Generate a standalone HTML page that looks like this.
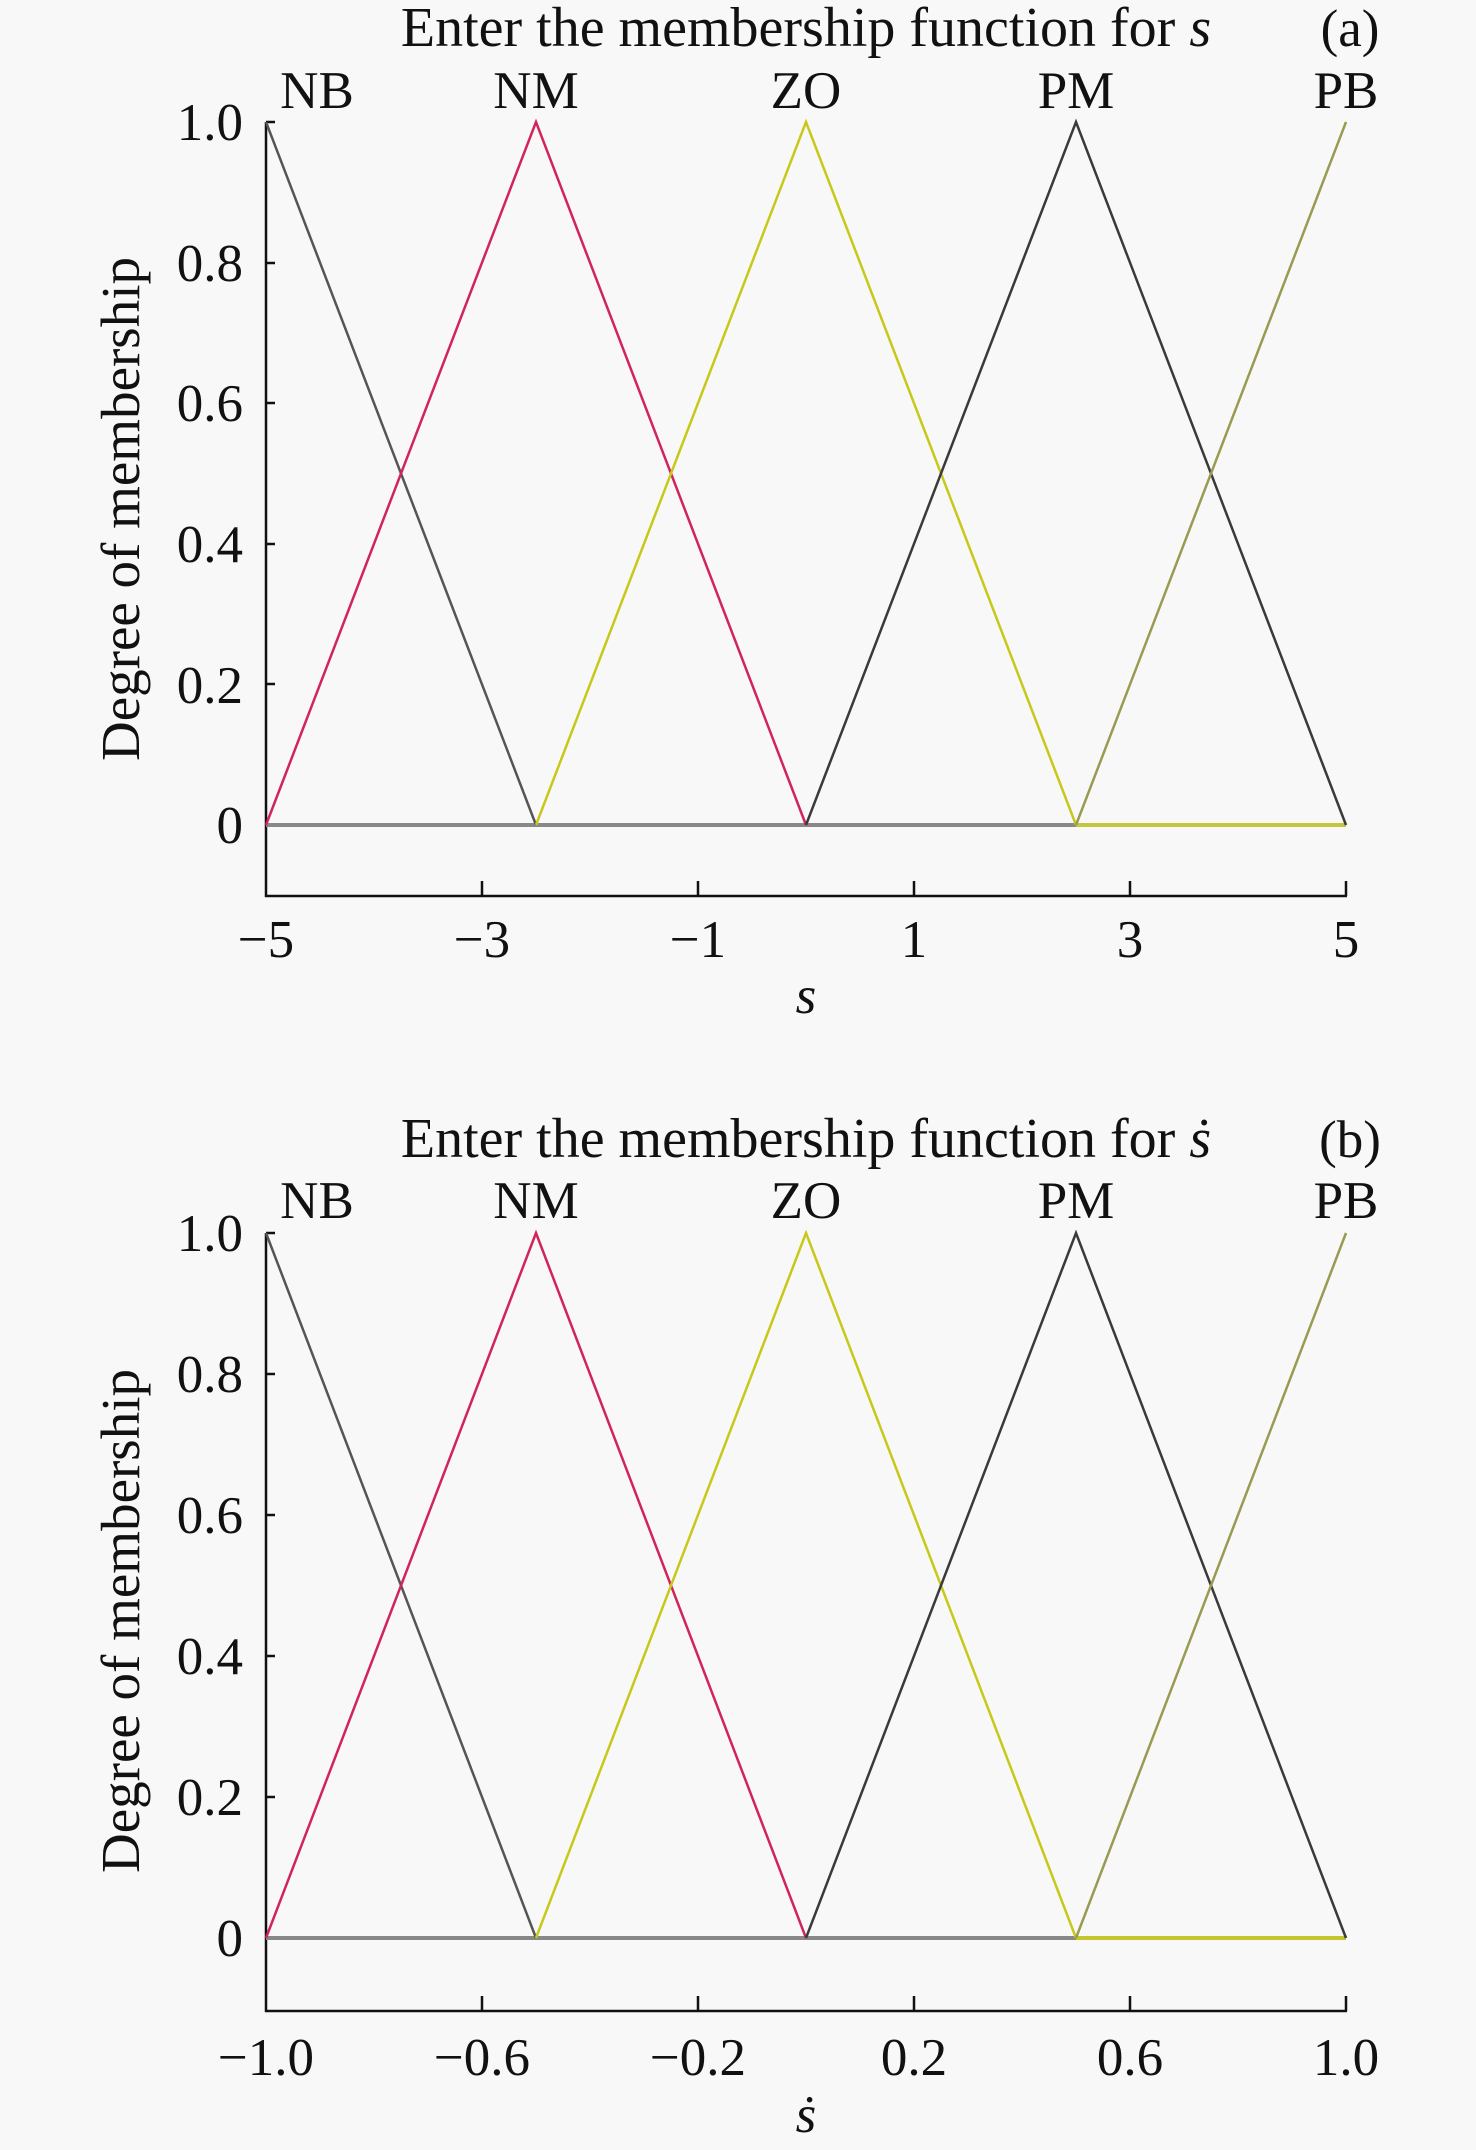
<!DOCTYPE html>
<html><head><meta charset="utf-8"><style>
html,body{margin:0;padding:0;background:#f8f8f8}
svg{display:block}
text{font-family:"Liberation Serif",serif;font-size:53px;fill:#111}
</style></head><body>
<svg width="1476" height="2150" viewBox="0 0 1476 2150" xmlns="http://www.w3.org/2000/svg">
<rect width="1476" height="2150" fill="#f8f8f8"/>
<!-- Panel A -->
<g>
<text x="806" y="46" text-anchor="middle" style="font-size:56px">Enter the membership function for <tspan font-style="italic">s</tspan></text>
<text x="1350" y="46" text-anchor="middle">(a)</text>
<text x="317" y="108" text-anchor="middle">NB</text>
<text x="536" y="108" text-anchor="middle">NM</text>
<text x="806" y="108" text-anchor="middle">ZO</text>
<text x="1076" y="108" text-anchor="middle">PM</text>
<text x="1346" y="108" text-anchor="middle">PB</text>
<text transform="translate(139,509) rotate(-90)" text-anchor="middle" style="font-size:55px">Degree of membership</text>
<g text-anchor="end">
<text x="243" y="140">1.0</text><text x="243" y="281">0.8</text><text x="243" y="421">0.6</text>
<text x="243" y="562">0.4</text><text x="243" y="703">0.2</text><text x="243" y="843">0</text>
</g>
<g stroke="#111" stroke-width="2.5">
<line x1="266" y1="122" x2="266" y2="897"/><line x1="265" y1="896" x2="1347" y2="896"/>
<line x1="266" y1="122" x2="275" y2="122"/><line x1="266" y1="263" x2="275" y2="263"/>
<line x1="266" y1="403" x2="275" y2="403"/><line x1="266" y1="544" x2="275" y2="544"/>
<line x1="266" y1="684" x2="275" y2="684"/><line x1="266" y1="825" x2="275" y2="825"/>
<line x1="482" y1="896" x2="482" y2="881"/><line x1="698" y1="896" x2="698" y2="881"/>
<line x1="914" y1="896" x2="914" y2="881"/><line x1="1130" y1="896" x2="1130" y2="881"/>
<line x1="1346" y1="896" x2="1346" y2="881"/>
</g>
<g text-anchor="middle">
<text x="266" y="957">−5</text><text x="482" y="957">−3</text><text x="698" y="957">−1</text>
<text x="914" y="957">1</text><text x="1130" y="957">3</text><text x="1346" y="957">5</text>
<text x="806" y="1013" font-style="italic">s</text>
</g>
<line x1="266" y1="825" x2="1076" y2="825" stroke="#888" stroke-width="4"/>
<line x1="1076" y1="825" x2="1346" y2="825" stroke="#c4c640" stroke-width="4"/>
<g fill="none" stroke-width="2.5">
<polyline points="266,122 536,825" stroke="#555"/>
<polyline points="266,825 536,122 806,825" stroke="#d0245a"/>
<polyline points="536,825 806,122 1076,825" stroke="#c8c81a"/>
<polyline points="806,825 1076,122 1346,825" stroke="#3a3a3a"/>
<polyline points="1076,825 1346,122" stroke="#9a9a50"/>
</g>
</g>
<!-- Panel B -->
<g>
<text x="806" y="1157" text-anchor="middle" style="font-size:56px">Enter the membership function for <tspan font-style="italic">ṡ</tspan></text>
<text x="1350" y="1157" text-anchor="middle">(b)</text>
<text x="317" y="1218" text-anchor="middle">NB</text>
<text x="536" y="1218" text-anchor="middle">NM</text>
<text x="806" y="1218" text-anchor="middle">ZO</text>
<text x="1076" y="1218" text-anchor="middle">PM</text>
<text x="1346" y="1218" text-anchor="middle">PB</text>
<text transform="translate(139,1621) rotate(-90)" text-anchor="middle" style="font-size:55px">Degree of membership</text>
<g text-anchor="end">
<text x="243" y="1251">1.0</text><text x="243" y="1392">0.8</text><text x="243" y="1533">0.6</text>
<text x="243" y="1674">0.4</text><text x="243" y="1815">0.2</text><text x="243" y="1956">0</text>
</g>
<g stroke="#111" stroke-width="2.5">
<line x1="266" y1="1233" x2="266" y2="2012"/><line x1="265" y1="2011" x2="1347" y2="2011"/>
<line x1="266" y1="1233" x2="275" y2="1233"/><line x1="266" y1="1374" x2="275" y2="1374"/>
<line x1="266" y1="1515" x2="275" y2="1515"/><line x1="266" y1="1656" x2="275" y2="1656"/>
<line x1="266" y1="1797" x2="275" y2="1797"/><line x1="266" y1="1938" x2="275" y2="1938"/>
<line x1="482" y1="2011" x2="482" y2="1996"/><line x1="698" y1="2011" x2="698" y2="1996"/>
<line x1="914" y1="2011" x2="914" y2="1996"/><line x1="1130" y1="2011" x2="1130" y2="1996"/>
<line x1="1346" y1="2011" x2="1346" y2="1996"/>
</g>
<g text-anchor="middle">
<text x="266" y="2075">−1.0</text><text x="482" y="2075">−0.6</text><text x="698" y="2075">−0.2</text>
<text x="914" y="2075">0.2</text><text x="1130" y="2075">0.6</text><text x="1346" y="2075">1.0</text>
<text x="806" y="2132" font-style="italic">ṡ</text>
</g>
<line x1="266" y1="1938" x2="1076" y2="1938" stroke="#888" stroke-width="4"/>
<line x1="1076" y1="1938" x2="1346" y2="1938" stroke="#c4c630" stroke-width="4"/>
<g fill="none" stroke-width="2.5">
<polyline points="266,1233 536,1938" stroke="#555"/>
<polyline points="266,1938 536,1233 806,1938" stroke="#d0245a"/>
<polyline points="536,1938 806,1233 1076,1938" stroke="#c8c81a"/>
<polyline points="806,1938 1076,1233 1346,1938" stroke="#3a3a3a"/>
<polyline points="1076,1938 1346,1233" stroke="#9a9a50"/>
</g>
</g>
</svg>
</body></html>
